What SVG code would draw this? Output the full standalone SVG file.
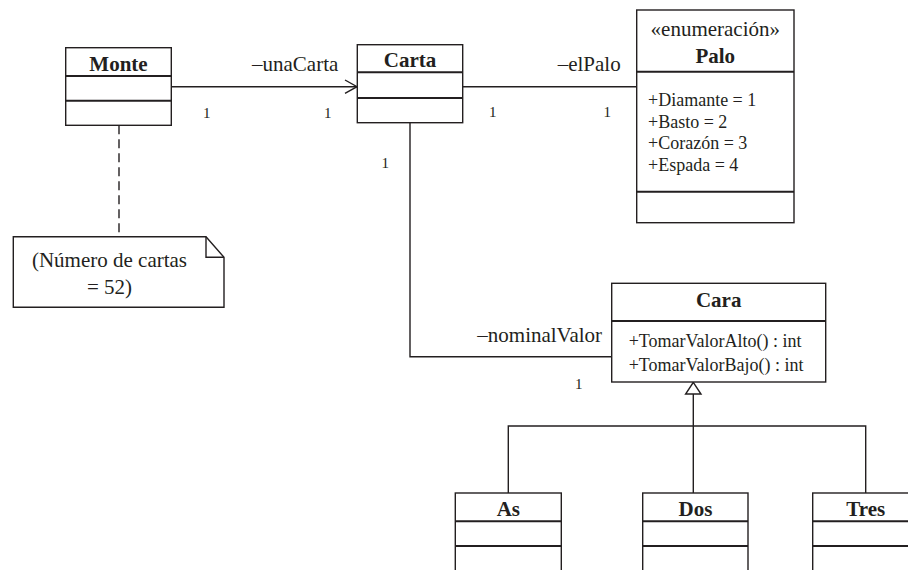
<svg xmlns="http://www.w3.org/2000/svg" width="908" height="570" viewBox="0 0 908 570">
<style>
.box{fill:#fff;stroke:#231f20;stroke-width:1.4}
.sep{stroke:#231f20;stroke-width:2}
.ln{fill:none;stroke:#231f20;stroke-width:1.4}
.t{font-family:"Liberation Serif","Times New Roman",serif;fill:#231f20}
.title{font-size:21px;font-weight:bold;text-anchor:middle}
.lbl{font-size:21px}
.attr{font-size:18px}
.mult{font-size:15px}
.note{font-size:21px;text-anchor:middle}
</style>
<rect width="908" height="570" fill="#fff"/>
<g id="connectors">
<path class="ln" d="M171.3,86.7H357"/>
<path class="ln" d="M345,80L357,86.7L345,93.3"/>
<path class="ln" d="M462.7,86.7H636.7"/>
<path class="ln" d="M410,122.7V356.7H611.7"/>
<path class="ln" d="M119,125.3V236.7" stroke-dasharray="9,5"/>
<path class="ln" d="M693.3,394V493M508.3,493V426H865.7V493"/>
<path class="box" d="M693.3,382.3L701,394H685.6Z"/>
<text class="t lbl" x="252" y="71">–unaCarta</text>
<text class="t lbl" x="557.7" y="71">–elPalo</text>
<text class="t lbl" x="477.3" y="341.7">–nominalValor</text>
<text class="t mult" x="203" y="118">1</text>
<text class="t mult" x="324" y="118">1</text>
<text class="t mult" x="381.5" y="168">1</text>
<text class="t mult" x="489" y="117">1</text>
<text class="t mult" x="603.5" y="117">1</text>
<text class="t mult" x="575" y="389">1</text>
</g>
<g id="Monte">
<rect class="box" x="65.7" y="47.7" width="105.6" height="77.6"/>
<path class="sep" d="M65.7,76H171.3M65.7,100.7H171.3"/>
<text class="t title" x="118.5" y="70.7">Monte</text>
</g>
<g id="Carta">
<rect class="box" x="357.3" y="44.7" width="105.4" height="78"/>
<path class="sep" d="M357.3,72.3H462.7M357.3,98H462.7"/>
<text class="t title" x="410" y="66.7">Carta</text>
</g>
<g id="Palo">
<rect class="box" x="636.7" y="10" width="157.3" height="212.7"/>
<path class="sep" d="M636.7,71.7H794M636.7,191.7H794"/>
<text class="t lbl" x="715.3" y="36" text-anchor="middle">«enumeración»</text>
<text class="t title" x="715.3" y="63.3">Palo</text>
<text class="t attr" x="648" y="106">+Diamante = 1</text>
<text class="t attr" x="648" y="127.5">+Basto = 2</text>
<text class="t attr" x="648" y="149">+Corazón = 3</text>
<text class="t attr" x="648" y="170.5">+Espada = 4</text>
</g>
<g id="Nota">
<path class="box" d="M13.3,236.7H206L224,257.3V307.3H13.3Z"/>
<path class="ln" d="M206,236.7V257.3H224"/>
<text class="t note" x="109.5" y="266.7">(Número de cartas</text>
<text class="t note" x="109.5" y="294.3">= 52)</text>
</g>
<g id="Cara">
<rect class="box" x="611.7" y="283.3" width="214" height="98.7"/>
<path class="sep" d="M611.7,321H825.7"/>
<text class="t title" x="718.7" y="307.3">Cara</text>
<text class="t attr" x="628.7" y="347">+TomarValorAlto() : int</text>
<text class="t attr" x="628.7" y="371">+TomarValorBajo() : int</text>
</g>
<g id="As">
<rect class="box" x="455.3" y="493" width="106" height="110"/>
<path class="sep" d="M455.3,521.3H561.3M455.3,546H561.3"/>
<text class="t title" x="508.3" y="516">As</text>
</g>
<g id="Dos">
<rect class="box" x="642.7" y="493" width="105.3" height="110"/>
<path class="sep" d="M642.7,521.3H748M642.7,546H748"/>
<text class="t title" x="695.5" y="516">Dos</text>
</g>
<g id="Tres">
<rect class="box" x="812.7" y="493" width="106" height="110"/>
<path class="sep" d="M812.7,521.3H918.7M812.7,546H918.7"/>
<text class="t title" x="865.7" y="516">Tres</text>
</g>
</svg>
